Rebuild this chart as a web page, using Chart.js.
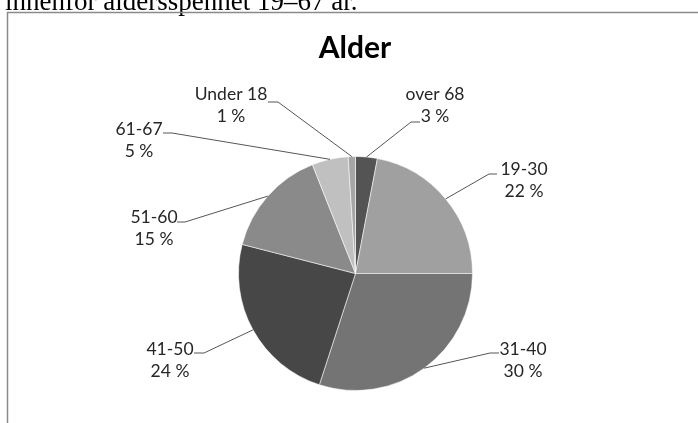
<!DOCTYPE html>
<html><head><meta charset="utf-8">
<script src="https://cdn.jsdelivr.net/npm/chart.js@4/dist/chart.umd.min.js"></script>
<style>html,body{margin:0;padding:0;background:#fff;overflow:hidden}
canvas{display:block}
</style></head><body>
<canvas id="c" width="698" height="423"></canvas>
<script>
const categories = ['over 68','19-30','31-40','41-50','51-60','61-67','Under 18'];
const values = [3,22,30,24,15,5,1];
const percentLabels = ['3 %','22 %','30 %','24 %','15 %','5 %','1 %'];
const sliceColors = ['#545454','#a0a0a0','#747474','#474747','#8a8a8a','#c0c0c0','#a6a6a6'];
const chartTitle = 'Alder';
const pageText = 'innenfor aldersspennet 19\u201367 \u00e5r.';

// label layout: text centre x, first-line baseline, leader elbow, leader stub end
const labelLayout = [
  {cx:435, by:100, elbow:[411,122], stub:[420,122]},
  {cx:524, by:175, elbow:[489,174], stub:[497,174]},
  {cx:523, by:355, elbow:[490,353], stub:[499,353]},
  {cx:170, by:355, elbow:[204,353], stub:[194,353]},
  {cx:154, by:223, elbow:[185,222], stub:[177,222]},
  {cx:139, by:135, elbow:[172,133], stub:[163,133]},
  {cx:231, by:100, elbow:[278,102], stub:[268,102]}
];

const decor = {
  id:'decor',
  beforeDraw(chart){
    const ctx = chart.ctx;
    ctx.save();
    ctx.fillStyle = '#000';
    ctx.font = '27px "Liberation Serif"';
    ctx.textAlign = 'left';
    ctx.textBaseline = 'alphabetic';
    ctx.fillText(pageText, 5, 10);
    ctx.strokeStyle = '#8a8a8a';
    ctx.lineWidth = 1.5;
    ctx.beginPath();
    ctx.moveTo(7.5, 423);
    ctx.lineTo(7.5, 12.5);
    ctx.lineTo(698, 12.5);
    ctx.stroke();
    ctx.fillStyle = '#000';
    ctx.font = 'bold 30px Lato';
    ctx.textAlign = 'center';
    ctx.fillText(chartTitle, 355, 58);
    ctx.restore();
  },
  afterDraw(chart){
    const ctx = chart.ctx;
    const meta = chart.getDatasetMeta(0);
    ctx.save();
    meta.data.forEach((arc, i) => {
      const p = arc.getProps(['x','y','startAngle','endAngle','outerRadius'], true);
      const mid = (p.startAngle + p.endAngle) / 2;
      const px = p.x + Math.cos(mid) * p.outerRadius;
      const py = p.y + Math.sin(mid) * p.outerRadius;
      const L = labelLayout[i];
      ctx.strokeStyle = '#555';
      ctx.lineWidth = 1;
      ctx.beginPath();
      ctx.moveTo(px, py);
      ctx.lineTo(L.elbow[0], L.elbow[1]);
      ctx.lineTo(L.stub[0], L.stub[1]);
      ctx.stroke();
      ctx.fillStyle = '#262626';
      ctx.font = '17.5px Lato';
      ctx.textAlign = 'center';
      ctx.textBaseline = 'alphabetic';
      ctx.fillText(chart.data.labels[i], L.cx, L.by);
      ctx.fillText(percentLabels[i], L.cx, L.by + 22);
    });
    ctx.restore();
  }
};

new Chart(document.getElementById('c'), {
  type: 'pie',
  data: {
    labels: categories,
    datasets: [{
      data: values,
      backgroundColor: sliceColors,
      borderColor: 'rgba(255,255,255,0.55)',
      borderWidth: 1,
      hoverOffset: 0
    }]
  },
  options: {
    responsive: false,
    animation: false,
    layout: {padding: {left:238, right:225, top:156, bottom:32}},
    plugins: {legend:{display:false}, tooltip:{enabled:false}, title:{display:false}}
  },
  plugins: [decor]
});
</script>
</body></html>
